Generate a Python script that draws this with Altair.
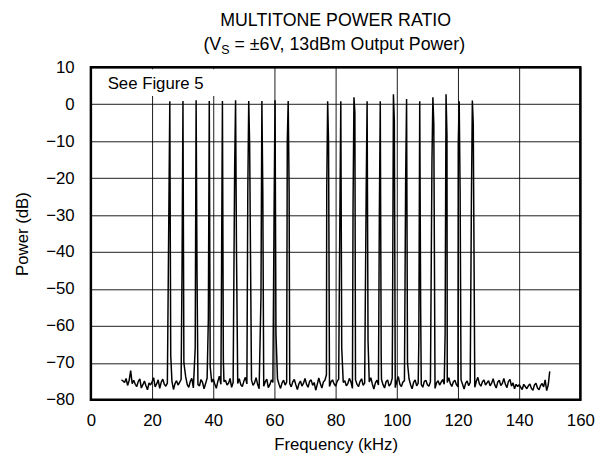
import altair as alt
import pandas as pd

# ---------------- data ----------------
noise_start_khz = 10.0
noise_step_khz = 0.5
noise_db = [
    -74.6, -74.9, -75.3, -74.2, -76.1, -74.8, -72.1, -75.6, -74.7, -75.8, -76.4, -75.0, -74.3, -76.8, -75.9, -74.9, -76.2, -77.3, -75.4, -76.0,
    -75.1, -74.0, -76.5, -75.7, -74.6, -76.9, -75.2, -74.4, -75.8, -76.3, -75.5, -73.9, -76.1, -75.0, -77.2, -75.6, -74.8, -76.0, -75.3, -74.5,
    -76.4, -75.1, -73.8, -75.9, -76.6, -75.0, -74.2, -76.8, -75.4, -74.7, -75.9, -76.2, -74.5, -75.3, -77.0, -75.6, -74.1, -75.8, -76.5, -75.2,
    -74.4, -75.7, -76.9, -75.0, -73.6, -75.8, -76.3, -75.1, -74.7, -76.0, -75.5, -74.2, -76.6, -75.3, -74.9, -77.1, -75.6, -74.3, -75.9, -76.4,
    -75.0, -73.9, -75.7, -76.8, -75.2, -74.6, -76.1, -75.4, -74.0, -75.8, -77.0, -75.5, -74.8, -76.3, -75.1, -74.4, -76.7, -75.9, -74.6, -75.3,
    -76.2, -75.0, -74.3, -75.8, -76.9, -75.4, -74.7, -76.0, -75.2, -73.8, -75.6, -76.5, -75.1, -74.5, -75.9, -77.2, -75.7, -74.9, -76.3, -75.5,
    -74.2, -75.8, -76.6, -75.0, -74.6, -76.1, -75.3, -77.4, -75.8, -74.1, -75.6, -76.8, -75.2, -74.7, -73.2, -75.9, -76.4, -75.1, -74.6, -75.7,
    -76.3, -75.0, -74.4, -75.9, -76.7, -75.3, -74.8, -76.2, -75.6, -74.2, -75.1, -76.9, -75.4, -74.6, -75.8, -76.4, -75.0, -74.3, -76.1, -75.5,
    -74.9, -76.6, -75.2, -74.0, -75.7, -77.1, -75.4, -74.7, -76.0, -75.3, -74.5, -75.9, -76.8, -75.1, -74.6, -76.3, -75.7, -74.2, -75.5, -76.7,
    -75.0, -73.7, -75.8, -76.4, -75.2, -74.8, -76.1, -75.6, -74.3, -75.9, -77.0, -75.3, -74.6, -76.2, -75.5, -74.1, -75.8, -76.6, -75.0, -74.7,
    -75.9, -76.3, -75.1, -74.4, -75.7, -76.9, -75.4, -74.8, -76.0, -75.2, -74.5, -75.8, -76.7, -75.3, -74.0, -75.6, -76.4, -75.1, -74.7, -75.9,
    -76.5, -75.2, -74.6, -75.8, -77.1, -75.5, -74.9, -76.2, -75.3, -74.4, -75.9, -76.6, -75.0, -73.9, -75.7, -76.3, -75.1, -74.6, -76.0, -75.4,
    -74.8, -76.2, -75.5, -74.3, -75.9, -76.8, -75.2, -74.7, -76.1, -75.6, -74.2, -75.8, -76.7, -75.0, -74.5, -76.3, -75.4, -77.0, -75.8, -76.4,
    -75.9, -76.6, -77.2, -75.8, -76.4, -77.0, -76.2, -75.7, -76.9, -77.4, -76.0, -75.5, -76.8, -77.3, -76.1, -75.6, -76.5, -74.6, -77.5, -76.0,
    -72.3,
]

tone_khz = [25.8, 30.1, 34.4, 38.7, 43.0, 47.3, 51.6, 55.9, 60.2, 64.5,
            77.4, 81.7, 86.0, 90.3, 94.6, 98.9, 103.2, 107.5, 111.8, 116.1, 120.4, 124.7]
tone_peak_db = [0.8, 0.9, 1.1, 0.9, 0.9, 1.1, 0.9, 0.9, 1.1, 0.9,
                0.8, 0.8, 1.9, 0.8, 0.8, 2.7, 1.4, 0.8, 1.9, 2.7, 0.8, 1.0]
tone_left_db = [-27.7, -44.0, -66.0, -58.0, -47.0, -17.0, -23.0, -52.0, -27.7, -10.2,
                -23.2, -29.4, -27.7, -23.2, -30.0, -60.0, -20.0, -64.0, -15.0, -62.0, -10.7, -25.4]
tone_right_db = [-68.0, -70.0, -46.0, -71.0, -69.0, -40.0, -11.0, -23.6, -62.0, -23.0,
                 -10.7, -66.0, -2.1, -64.0, -68.0, -4.4, -70.0, -55.0, -5.3, -8.3, -23.7, -5.3]
shoulder_offset_khz = 0.3

title_line1 = "MULTITONE POWER RATIO"
title_line2_a = "(V"
title_line2_sub = "S"
title_line2_b = "= \u00b16V, 13dBm Output Power)"
note_text = "See Figure 5"

x_ticks = [0, 20, 40, 60, 80, 100, 120, 140, 160]
y_ticks = [-80, -70, -60, -50, -40, -30, -20, -10, 0, 10]

# ---------------- build the trace table ----------------
rows = []
for i, v in enumerate(noise_db):
    f = noise_start_khz + i * noise_step_khz
    if min(abs(f - t) for t in tone_khz) < 0.4:
        continue
    rows.append((f, v))
for t, p, l, r in zip(tone_khz, tone_peak_db, tone_left_db, tone_right_db):
    rows.append((t - shoulder_offset_khz, l))
    rows.append((t, p))
    rows.append((t + shoulder_offset_khz, r))
rows.sort()
trace = pd.DataFrame(rows, columns=["freq", "power"])

FONT = "Liberation Sans"
W, H = 496, 337

xscale = alt.Scale(domain=[0, 160], nice=False, zero=False)
yscale = alt.Scale(domain=[-80, 10], nice=False, zero=False)

line = alt.Chart(trace).mark_line(
    color="black", strokeWidth=1.5, strokeJoin="bevel"
).encode(
    x=alt.X("freq:Q", scale=xscale,
            axis=alt.Axis(values=x_ticks, title="Frequency (kHz)", grid=True,
                          ticks=False, domain=False, labelFlush=False,
                          labelPadding=13, titlePadding=8)),
    y=alt.Y("power:Q", scale=yscale,
            axis=alt.Axis(values=y_ticks, title="Power (dB)", grid=True,
                          ticks=False, domain=False, labelFlush=False,
                          labelPadding=17, titlePadding=14)),
)

ann = pd.DataFrame({"note": [note_text]})
box = alt.Chart(ann).mark_rect(fill="white").encode(
    x=alt.value(2), x2=alt.value(133), y=alt.value(2), y2=alt.value(29)
)
note = alt.Chart(ann).mark_text(
    align="left", baseline="alphabetic", font=FONT, fontSize=17, color="black"
).encode(x=alt.value(17), y=alt.value(21.5), text="note:N")

titles = pd.DataFrame({"t1": [title_line1], "a": [title_line2_a],
                       "s": [title_line2_sub], "b": [title_line2_b]})
t1 = alt.Chart(titles).mark_text(
    align="center", baseline="alphabetic", font=FONT, fontSize=18, color="black"
).encode(x=alt.value(W / 2), y=alt.value(-42), text="t1:N")
t2a = alt.Chart(titles).mark_text(
    align="left", baseline="alphabetic", font=FONT, fontSize=18, color="black"
).encode(x=alt.value(114), y=alt.value(-17.5), text="a:N")
t2s = alt.Chart(titles).mark_text(
    align="left", baseline="alphabetic", font=FONT, fontSize=12.6, color="black"
).encode(x=alt.value(132), y=alt.value(-13), text="s:N")
t2b = alt.Chart(titles).mark_text(
    align="left", baseline="alphabetic", font=FONT, fontSize=18, color="black"
).encode(x=alt.value(145.5), y=alt.value(-17.5), text="b:N")

chart = alt.layer(box, line, note, t1, t2a, t2s, t2b).properties(
    width=W, height=H,
    autosize=alt.AutoSizeParams(type="none"),
    padding={"left": 84, "top": 57, "right": 25, "bottom": 66},
    background="white",
).configure_view(
    stroke="black", strokeWidth=2.5
).configure_axis(
    gridColor="black", gridWidth=1, gridOpacity=0.9,
    labelFont=FONT, labelFontSize=17, labelColor="black",
    titleFont=FONT, titleFontSize=17, titleFontWeight="normal", titleColor="black",
)

chart.save("out.html", embed_options={"renderer": "svg", "actions": False})
